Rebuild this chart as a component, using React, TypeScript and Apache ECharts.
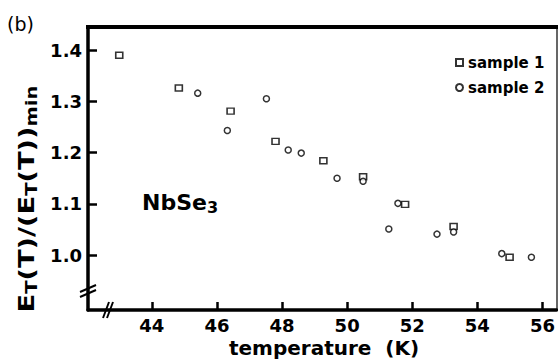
import React, { useEffect, useRef } from "react";
import * as echarts from "echarts";

const xTicks = [44, 46, 48, 50, 52, 54, 56];
const yTicks = [1.0, 1.1, 1.2, 1.3, 1.4];

const sample1: [number, number][] = [
  [43.0, 1.39],
  [44.83, 1.326],
  [46.42, 1.281],
  [47.8, 1.222],
  [49.27, 1.184],
  [50.49, 1.153],
  [51.78, 1.099],
  [53.27, 1.056],
  [54.99, 0.996],
];

const sample2: [number, number][] = [
  [45.41, 1.316],
  [46.32, 1.243],
  [47.52, 1.305],
  [48.19, 1.205],
  [48.59, 1.199],
  [49.69, 1.15],
  [50.49, 1.144],
  [51.28, 1.051],
  [51.56, 1.101],
  [52.76, 1.041],
  [53.27, 1.045],
  [54.75, 1.003],
  [55.66, 0.996],
];

const FONT = "'DejaVu Sans', sans-serif";

export default function App() {
  const ref = useRef<HTMLDivElement>(null);
  useEffect(() => {
    document.body.style.margin = "0";
    const chart = echarts.init(ref.current!, null, { renderer: "svg" });
    const tickLabel = {
      fontFamily: FONT,
      fontWeight: "bold" as const,
      fontSize: 18,
      color: "#000",
    };
    const symStyle = { color: "#fff", borderColor: "#000", borderWidth: 1.5 };
    const frame = { stroke: "#000" };
    chart.setOption({
      animation: false,
      backgroundColor: "#fff",
      grid: {
        left: 88,
        right: 1,
        top: 27,
        bottom: 49,
        show: false,
      },
      xAxis: {
        type: "value",
        min: 42.04,
        max: 56.43,
        position: "bottom",
        splitLine: { show: false },
        axisLine: { show: true, onZero: false, lineStyle: { color: "#000", width: 3.5 } },
        axisTick: {
          show: true,
          inside: true,
          length: 8,
          customValues: xTicks,
          lineStyle: { color: "#000", width: 2.5 },
        },
        axisLabel: {
          customValues: xTicks,
          margin: 6,
          ...tickLabel,
          formatter: (v: number) => String(Math.round(v)),
        },
      },
      yAxis: {
        type: "value",
        min: 0.893,
        max: 1.445,
        splitLine: { show: false },
        axisLine: { show: true, onZero: false, lineStyle: { color: "#000", width: 3.5 } },
        axisTick: {
          show: true,
          inside: true,
          length: 9,
          customValues: yTicks,
          lineStyle: { color: "#000", width: 2.5 },
        },
        axisLabel: {
          customValues: yTicks,
          margin: 6,
          ...tickLabel,
          formatter: (v: number) => v.toFixed(1),
        },
      },
      legend: {
        orient: "vertical",
        left: 450,
        top: 50,
        itemWidth: 7,
        itemHeight: 7,
        itemGap: 10,
        textStyle: {
          fontFamily: FONT,
          fontWeight: "bold",
          fontSize: 15,
          color: "#000",
        },
        data: [
          { name: "sample 1", icon: "rect" },
          { name: "sample 2", icon: "circle" },
        ],
      },
      series: [
        {
          name: "sample 1",
          type: "scatter",
          symbol: "rect",
          symbolSize: [7, 6],
          itemStyle: symStyle,
          data: sample1,
        },
        {
          name: "sample 2",
          type: "scatter",
          symbol: "circle",
          symbolSize: 6,
          itemStyle: symStyle,
          data: sample2,
        },
      ],
      graphic: [
        // frame: top (thick) and right (thin)
        { type: "line", z: 10, shape: { x1: 86, y1: 27, x2: 558, y2: 27 }, style: { ...frame, lineWidth: 4 } },
        { type: "line", z: 10, shape: { x1: 557, y1: 27, x2: 557, y2: 310 }, style: { ...frame, lineWidth: 1.2 } },
        {
          type: "text",
          x: 7,
          y: 24,
          style: { text: "(b)", font: `19px ${FONT}`, fill: "#000", verticalAlign: "middle" },
        },
        {
          type: "text",
          x: 142,
          y: 202,
          style: {
            text: "NbSe{s|3}",
            font: `bold 22px ${FONT}`,
            fill: "#000",
            verticalAlign: "middle",
            rich: {
              s: { fontFamily: FONT, fontWeight: "bold", fontSize: 16, padding: [10, 0, 0, 0], fill: "#000" },
            },
          },
        },
        {
          type: "text",
          x: 27,
          y: 199,
          rotation: Math.PI / 2,
          scaleX: 1.3,
          style: {
            text: "E{s|T}(T)/(E{s|T}(T)){s|min}",
            font: `bold 21px ${FONT}`,
            fill: "#000",
            align: "center",
            verticalAlign: "middle",
            rich: {
              s: {
                fontFamily: FONT,
                fontWeight: "bold",
                fontSize: 15,
                padding: [10, 0, 0, 0],
                fill: "#000",
              },
            },
          },
        },
        {
          type: "text",
          x: 324,
          y: 348,
          style: {
            text: "temperature  (K)",
            font: `bold 20px ${FONT}`,
            fill: "#000",
            align: "center",
            verticalAlign: "middle",
          },
        },
        // y-axis break
        { type: "line", z: 10, shape: { x1: 80, y1: 292, x2: 96, y2: 285 }, style: { ...frame, lineWidth: 2 } },
        { type: "line", z: 10, shape: { x1: 80, y1: 297, x2: 96, y2: 290 }, style: { ...frame, lineWidth: 2 } },
        // x-axis break
        { type: "line", z: 10, shape: { x1: 103, y1: 318, x2: 109, y2: 302 }, style: { ...frame, lineWidth: 2 } },
        { type: "line", z: 10, shape: { x1: 107, y1: 318, x2: 113, y2: 302 }, style: { ...frame, lineWidth: 2 } },
      ],
    });
    return () => chart.dispose();
  }, []);
  return <div ref={ref} style={{ width: 558, height: 359 }} />;
}
